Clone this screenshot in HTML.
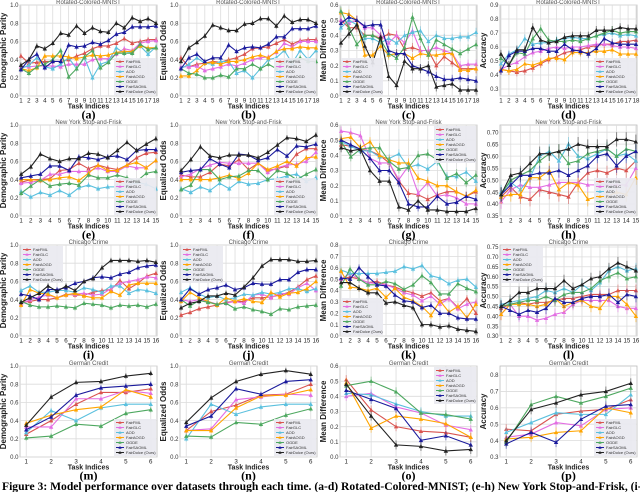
<!DOCTYPE html>
<html><head><meta charset="utf-8">
<style>
html,body{margin:0;padding:0;background:#fff;width:640px;height:492px;overflow:hidden}
svg{display:block}
</style></head>
<body>
<svg id="fig" width="640" height="492" viewBox="0 0 640 492" xmlns="http://www.w3.org/2000/svg"></svg>
<script>
const seriesNames = ["FairFML","FairGLC","AOD","FairAOGD","OGDE","FairSAOML","FairDolce (Ours)"];
const seriesColors = ["#d9534f","#e36ee3","#5bc0de","#ffa500","#4ea860","#1a1a9c","#222222"];
const panelLetters = ["(a)","(b)","(c)","(d)","(e)","(f)","(g)","(h)","(i)","(j)","(k)","(l)","(m)","(n)","(o)","(p)"];
const panelTitles = ["Rotated-Colored-MNIST","Rotated-Colored-MNIST","Rotated-Colored-MNIST","Rotated-Colored-MNIST","New York Stop-and-Frisk","New York Stop-and-Frisk","New York Stop-and-Frisk","New York Stop-and-Frisk","Chicago Crime","Chicago Crime","Chicago Crime","Chicago Crime","German Credit","German Credit","German Credit","German Credit"];
const yTitles = ["Demographic Parity","Equalized Odds","Mean Difference","Accuracy"];
const taskCounts = [18,18,18,18,15,15,15,15,16,16,16,16,6,6,6,6];
const yMins = [0,0,0,0.25, 0,0,0,0.35, 0,0,0,0.3, 0,0,0,0.3];
const yMaxs = [1,1,0.6,0.9, 1,1,0.6,0.73, 1,1,0.8,0.76, 1,1,0.6,0.855];
const yTickStart = [0,0,0,0.3, 0,0,0,0.35, 0,0,0,0.3, 0,0,0,0.3];
const yTickStep = [0.2,0.2,0.1,0.1, 0.2,0.2,0.1,0.05, 0.2,0.2,0.1,0.05, 0.2,0.2,0.1,0.1];
const yTickDecimals = [1,1,1,1, 1,1,1,2, 1,1,1,2, 1,1,1,1];
const legendPos = ["lr","lr","ll","lr","lr","lr","ur","lr","ul","ul","ll","ul","lr","lr","ur","lr"];
const errHalf = 0.03;

const dataA = [
[.44,.36,.37,.38,.38,.38,.40,.44,.47,.52,.55,.55,.58,.63,.58,.60,.62,.62],
[.32,.32,.33,.33,.33,.32,.35,.35,.35,.40,.41,.41,.46,.52,.50,.58,.60,.61],
[.30,.34,.42,.32,.30,.35,.42,.30,.42,.20,.35,.38,.53,.47,.48,.55,.46,.54],
[.30,.28,.31,.44,.44,.44,.43,.41,.43,.45,.44,.45,.48,.49,.49,.55,.53,.53],
[.30,.25,.32,.35,.40,.50,.21,.30,.43,.50,.31,.37,.47,.47,.47,.57,.51,.53],
[.29,.40,.46,.31,.38,.38,.56,.54,.55,.59,.57,.61,.68,.70,.76,.76,.76,.77],
[.34,.40,.55,.52,.58,.69,.67,.77,.69,.75,.71,.70,.80,.75,.86,.82,.85,.80]];
const dataB = [
[.42,.32,.35,.36,.38,.37,.40,.42,.46,.52,.53,.54,.58,.62,.57,.61,.62,.62],
[.32,.32,.33,.28,.30,.32,.35,.33,.36,.40,.42,.43,.48,.58,.54,.60,.60,.60],
[.30,.35,.42,.36,.35,.38,.38,.25,.28,.20,.30,.40,.42,.50,.36,.50,.40,.50],
[.22,.22,.28,.36,.37,.35,.38,.38,.40,.43,.45,.42,.49,.52,.52,.54,.53,.53],
[.30,.25,.24,.20,.20,.23,.21,.30,.30,.35,.30,.35,.30,.38,.38,.42,.38,.38],
[.30,.42,.46,.38,.42,.42,.56,.49,.53,.54,.53,.57,.65,.65,.74,.74,.74,.77],
[.38,.53,.59,.66,.78,.75,.72,.72,.79,.80,.85,.85,.77,.88,.81,.84,.84,.80]];
const dataC = [
[.50,.45,.45,.40,.40,.38,.41,.40,.31,.32,.30,.30,.20,.26,.22,.18,.18,.18],
[.50,.48,.50,.45,.45,.40,.35,.40,.35,.43,.30,.30,.32,.30,.28,.20,.21,.21],
[.45,.50,.47,.38,.38,.35,.38,.35,.40,.42,.43,.36,.40,.38,.38,.39,.39,.42],
[.55,.54,.50,.27,.27,.33,.27,.28,.28,.25,.28,.27,.27,.28,.28,.17,.17,.18],
[.56,.45,.34,.40,.40,.37,.28,.25,.32,.52,.38,.27,.37,.34,.31,.28,.31,.34],
[.48,.52,.50,.46,.47,.47,.30,.28,.28,.20,.18,.16,.13,.11,.11,.12,.11,.10],
[.35,.41,.47,.33,.22,.39,.13,.07,.23,.18,.18,.20,.06,.07,.08,.04,.04,.04]];
const dataD = [
[.44,.43,.42,.43,.45,.48,.51,.53,.56,.57,.58,.60,.61,.62,.62,.64,.64,.65],
[.44,.47,.49,.53,.56,.57,.59,.60,.59,.60,.60,.61,.62,.62,.61,.60,.60,.59],
[.48,.55,.58,.66,.62,.63,.63,.65,.66,.67,.66,.66,.68,.69,.70,.68,.69,.68],
[.44,.43,.44,.48,.47,.49,.52,.52,.51,.56,.56,.56,.57,.57,.58,.55,.55,.55],
[.52,.47,.56,.55,.66,.73,.65,.64,.64,.65,.64,.66,.68,.70,.72,.70,.71,.71],
[.43,.54,.57,.57,.59,.59,.57,.57,.62,.58,.57,.55,.59,.66,.63,.62,.62,.62],
[.55,.47,.58,.58,.74,.65,.63,.64,.67,.68,.68,.68,.72,.72,.72,.74,.73,.73]];
const dataE = [
[.37,.40,.40,.41,.50,.51,.58,.52,.56,.53,.51,.56,.64,.69,.70],
[.36,.37,.39,.46,.46,.49,.49,.49,.53,.49,.49,.55,.53,.53,.61],
[.27,.21,.26,.23,.28,.23,.31,.34,.30,.32,.32,.33,.37,.35,.30],
[.40,.40,.39,.40,.42,.43,.39,.47,.56,.50,.50,.56,.59,.53,.61],
[.25,.33,.40,.33,.35,.36,.34,.45,.42,.42,.45,.42,.38,.47,.49],
[.42,.44,.46,.55,.55,.50,.65,.64,.62,.65,.66,.62,.72,.73,.73],
[.46,.54,.68,.63,.60,.63,.63,.69,.68,.64,.72,.81,.72,.79,.85]];
const dataF = [
[.45,.43,.43,.48,.57,.55,.62,.51,.58,.50,.52,.55,.68,.74,.74],
[.43,.46,.52,.56,.59,.58,.58,.58,.58,.48,.53,.56,.57,.60,.70],
[.30,.26,.32,.28,.36,.30,.38,.35,.36,.40,.41,.44,.46,.38,.42],
[.40,.40,.40,.40,.42,.45,.41,.47,.58,.51,.55,.60,.55,.64,.65],
[.29,.34,.51,.51,.40,.43,.44,.50,.50,.40,.50,.47,.40,.46,.51],
[.48,.50,.51,.63,.57,.53,.68,.67,.61,.64,.73,.66,.77,.76,.79],
[.50,.62,.76,.66,.64,.67,.67,.67,.64,.70,.78,.86,.85,.82,.89]];
const dataG = [
[.47,.46,.44,.43,.40,.35,.23,.15,.14,.11,.14,.16,.16,.13,.16],
[.56,.55,.53,.38,.35,.35,.24,.33,.15,.22,.13,.14,.12,.08,.08],
[.49,.46,.43,.43,.39,.38,.41,.32,.34,.31,.36,.26,.26,.29,.23],
[.51,.52,.45,.49,.40,.37,.35,.35,.25,.23,.20,.20,.16,.13,.17],
[.49,.39,.44,.45,.45,.36,.31,.32,.40,.41,.37,.25,.28,.22,.27],
[.50,.47,.44,.38,.30,.30,.22,.08,.06,.06,.13,.08,.09,.13,.11],
[.45,.43,.44,.30,.23,.23,.06,.04,.10,.04,.04,.03,.03,.03,.05]];
const dataH = [
[.43,.47,.43,.42,.46,.45,.44,.43,.49,.53,.54,.53,.55,.54,.58],
[.41,.46,.48,.47,.47,.48,.49,.49,.49,.48,.48,.48,.48,.48,.55],
[.45,.49,.46,.51,.60,.62,.58,.65,.60,.59,.61,.63,.60,.61,.58],
[.43,.44,.44,.51,.51,.54,.46,.49,.48,.42,.43,.43,.45,.44,.51],
[.44,.50,.52,.54,.58,.61,.62,.57,.58,.61,.62,.63,.60,.63,.62],
[.44,.48,.52,.52,.53,.53,.54,.52,.54,.56,.60,.61,.56,.60,.62],
[.44,.52,.53,.57,.61,.61,.62,.63,.65,.64,.64,.64,.67,.67,.66]];
const dataI = [
[.37,.38,.40,.40,.42,.46,.45,.45,.48,.50,.51,.61,.52,.58,.66,.69],
[.35,.40,.43,.45,.42,.45,.46,.47,.45,.46,.52,.58,.60,.62,.65,.64],
[.50,.55,.48,.48,.50,.50,.48,.53,.51,.48,.55,.55,.47,.51,.50,.47],
[.34,.51,.47,.46,.42,.45,.47,.44,.42,.42,.49,.45,.56,.58,.58,.58],
[.38,.34,.32,.32,.33,.32,.31,.36,.35,.34,.31,.34,.33,.34,.32,.35],
[.46,.44,.40,.51,.51,.53,.58,.60,.64,.65,.64,.68,.70,.75,.77,.78],
[.37,.42,.47,.55,.49,.55,.50,.60,.63,.75,.83,.83,.83,.82,.83,.81]];
const dataJ = [
[.23,.26,.30,.32,.34,.37,.38,.38,.42,.42,.43,.45,.48,.54,.62,.66],
[.40,.38,.40,.38,.35,.36,.38,.36,.45,.46,.42,.47,.46,.53,.58,.50],
[.48,.53,.46,.42,.44,.40,.42,.46,.45,.48,.46,.48,.52,.52,.49,.52],
[.38,.48,.42,.38,.34,.42,.38,.41,.38,.37,.48,.43,.47,.48,.52,.60],
[.40,.33,.39,.37,.35,.36,.30,.32,.29,.27,.24,.30,.29,.32,.33,.34],
[.40,.52,.46,.51,.53,.56,.51,.53,.58,.57,.57,.62,.62,.70,.73,.73],
[.31,.36,.38,.44,.44,.47,.45,.54,.64,.77,.84,.84,.84,.82,.82,.83]];
const dataK = [
[.50,.52,.50,.47,.48,.45,.43,.40,.38,.35,.38,.31,.33,.25,.33,.20],
[.50,.55,.50,.47,.46,.45,.42,.38,.36,.31,.35,.28,.33,.24,.28,.30],
[.58,.55,.55,.55,.55,.56,.57,.61,.59,.62,.53,.51,.46,.49,.50,.43],
[.57,.43,.42,.40,.42,.34,.42,.34,.31,.26,.18,.31,.21,.26,.16,.28],
[.44,.59,.50,.45,.45,.48,.46,.41,.45,.53,.47,.37,.37,.46,.42,.39],
[.51,.50,.60,.52,.45,.44,.36,.31,.30,.25,.27,.20,.20,.16,.15,.15],
[.47,.47,.42,.38,.38,.29,.30,.27,.25,.10,.10,.08,.09,.06,.05,.04]];
const dataL = [
[.44,.46,.47,.46,.47,.47,.48,.49,.49,.50,.51,.51,.51,.53,.53,.53],
[.41,.46,.40,.40,.38,.39,.41,.42,.46,.48,.48,.48,.48,.45,.44,.44],
[.46,.47,.48,.49,.50,.53,.52,.54,.52,.56,.53,.57,.63,.65,.63,.64],
[.41,.46,.46,.46,.45,.46,.49,.45,.47,.48,.45,.44,.50,.50,.46,.40],
[.45,.46,.47,.48,.48,.50,.48,.51,.52,.52,.54,.58,.60,.62,.59,.60],
[.45,.43,.41,.43,.42,.44,.49,.47,.47,.49,.50,.50,.51,.47,.51,.50],
[.45,.48,.52,.52,.54,.54,.54,.58,.54,.56,.59,.60,.64,.67,.65,.63]];
const dataM = [
[.25,.40,.58,.71,.71,.75],[.33,.33,.64,.64,.73,.70],[.27,.51,.40,.54,.58,.58],
[.37,.46,.52,.55,.74,.66],[.21,.23,.36,.34,.48,.52],[.30,.44,.68,.76,.78,.80],[.35,.66,.82,.83,.89,.92]];
const dataN = [
[.29,.50,.57,.68,.69,.80],[.29,.31,.63,.66,.69,.68],[.20,.58,.47,.55,.58,.58],
[.29,.29,.54,.67,.68,.74],[.23,.22,.38,.36,.46,.53],[.34,.45,.75,.69,.83,.85],[.38,.65,.83,.91,.95,.91]];
const dataO = [
[.51,.31,.20,.17,.16,.13],[.40,.42,.33,.29,.21,.18],[.42,.41,.35,.30,.27,.27],
[.49,.19,.27,.25,.22,.13],[.47,.50,.43,.29,.28,.25],[.44,.38,.32,.11,.14,.08],[.48,.27,.08,.07,.04,.05]];
const dataP = [
[.47,.46,.56,.58,.59,.65],[.42,.44,.51,.49,.59,.60],[.45,.51,.57,.56,.56,.68],
[.41,.42,.45,.46,.60,.57],[.39,.62,.67,.63,.67,.72],[.38,.45,.39,.53,.61,.62],[.40,.59,.63,.68,.70,.75]];
const allData = [dataA,dataB,dataC,dataD,dataE,dataF,dataG,dataH,dataI,dataJ,dataK,dataL,dataM,dataN,dataO,dataP];

const NS = "http://www.w3.org/2000/svg";
const svg = document.getElementById("fig");
function mk(tag, attrs, parent, text){
  const e = document.createElementNS(NS, tag);
  for (const k in attrs) e.setAttribute(k, attrs[k]);
  if (text !== undefined) e.textContent = text;
  (parent||svg).appendChild(e);
  return e;
}
function tri(x,y,s){return `${x},${y-s} ${x-s},${y+s*0.8} ${x+s},${y+s*0.8}`;}

const rowTops = [5,125,245,366];
const plotH = 91;
for (let p = 0; p < 16; p++) {
  const row = Math.floor(p/4), col = p%4;
  const L = col*160 + 20, R = col*160 + 157, T = rowTops[row], B = T + plotH;
  const n = taskCounts[p], ymin = yMins[p], ymax = yMaxs[p];
  const pad = n <= 6 ? 0.25 : 0.12;
  const xs = i => L + (i + 1 - (1 - pad)) / (n - 1 + 2*pad) * (R - L);
  const ys = v => B - (v - ymin) / (ymax - ymin) * (B - T);
  const g = mk("g", {});
  
  
  mk("rect", {x:L, y:T, width:R-L, height:B-T, fill:"#fff", stroke:"#bbb", "stroke-width":0.8}, g);
  for (let i = 0; i < n; i++) {
    const x = xs(i);
    mk("line", {x1:x, x2:x, y1:T, y2:B, stroke:"#dcdcdc", "stroke-width":0.8}, g);
    const t = mk("text", {x:x, y:B+6.5, "font-size":6.2, "text-anchor":"middle", fill:"#222", "font-family":"Liberation Sans, sans-serif"}, g, String(i+1));
    
    
  }
  const dec = yTickDecimals[p];
  for (let v = yTickStart[p]; v <= ymax + 1e-6; v += yTickStep[p]) {
    const y = ys(v);
    mk("line", {x1:L, x2:R, y1:y, y2:y, stroke:"#dcdcdc", "stroke-width":0.8}, g);
    const t = mk("text", {x:L-1.5, y:y+2.2, "font-size":6, "text-anchor":"end", fill:"#333", "font-family":"Liberation Sans, sans-serif"}, g, v.toFixed(dec));
    
    
  }
  const tt = mk("text", {x:(L+R)/2, y:T-0.8, "font-size":6, "text-anchor":"middle", fill:"#555", "font-family":"Liberation Sans, sans-serif"}, g, panelTitles[p]);
  
  
  const yt = mk("text", {x:0, y:0, "font-size":8, "font-weight":"bold", "text-anchor":"middle", fill:"#222", "font-family":"Liberation Sans, sans-serif", transform:`translate(${col*160+6},${(T+B)/2}) rotate(-90)`}, g, yTitles[col]);
  
  
  const xt = mk("text", {x:(L+R)/2, y:B+12.5, "font-size":7, "font-weight":"bold", "text-anchor":"middle", fill:"#222", "font-family":"Liberation Sans, sans-serif"}, g, "Task Indices");
  
  
  const lt = mk("text", {x:(L+R)/2, y:B+22.5, "font-size":12, "font-weight":"bold", "text-anchor":"middle", fill:"#000", "font-family":"Liberation Serif, serif"}, g, panelLetters[p]);
  
  
  const data = allData[p];
  for (let s = 0; s < 7; s++) {
    const vals = data[s], c = seriesColors[s];
    const sg = mk("g", {}, g);
    
    
    for (let i = 0; i < vals.length; i++) {
      mk("line", {x1:xs(i), x2:xs(i), y1:ys(vals[i]-errHalf), y2:ys(vals[i]+errHalf), stroke:c, "stroke-width":1, opacity:0.5}, sg);
    }
    mk("polyline", {points: vals.map((v,i)=>xs(i)+","+ys(v)).join(" "), fill:"none", stroke:c, "stroke-width":1.1}, sg);
    for (let i = 0; i < vals.length; i++) {
      const m = mk("polygon", {points: tri(xs(i), ys(vals[i]), 2.2), fill:c}, sg);
      
      
    }
  }
  const lw = 42, lh = 37;
  const pos = legendPos[p];
  const lx = pos[1]==='r' ? R - lw - 1 : L + 1;
  const ly = pos[0]==='l' ? B - lh - 1 : T + 1;
  const lg = mk("g", {}, g);
  
  
  mk("rect", {x:lx, y:ly, width:lw, height:lh, fill:"#e9e9f0", opacity:0.92}, lg);
  for (let s = 0; s < 7; s++) {
    const ey = ly + 3.5 + s*5;
    const eg = mk("g", {}, lg);
    
    
    mk("line", {x1:lx+2, x2:lx+10, y1:ey, y2:ey, stroke:seriesColors[s], "stroke-width":1}, eg);
    mk("polygon", {points: tri(lx+6, ey, 1.6), fill:seriesColors[s]}, eg);
    mk("text", {x:lx+12, y:ey+1.5, "font-size":4, fill:"#333", "font-family":"Liberation Sans, sans-serif"}, eg, seriesNames[s]);
  }
}
const cap = mk("text", {x:2, y:490, "font-size":11.6, "font-weight":"bold", fill:"#000", "font-family":"Liberation Serif, serif"}, svg, "Figure 3: Model performance over datasets through each time. (a-d) Rotated-Colored-MNIST; (e-h) New York Stop-and-Frisk, (i-l)");


</script>
</body></html>
